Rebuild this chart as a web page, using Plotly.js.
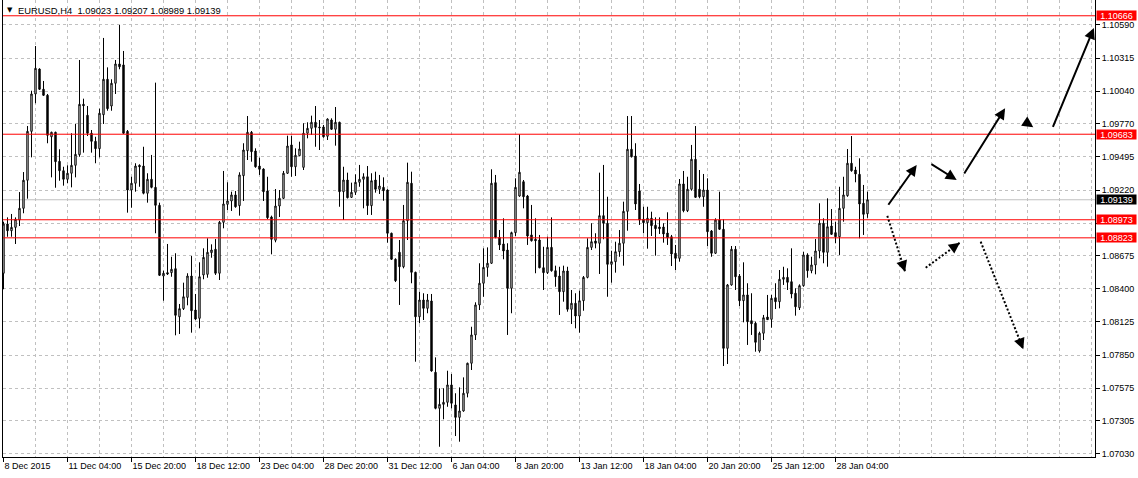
<!DOCTYPE html>
<html><head><meta charset="utf-8">
<script src="https://cdn.plot.ly/plotly-3.0.1.min.js"></script>
<style>html,body{margin:0;padding:0;background:#fff;}#chart{width:1138px;height:478px;}</style>
</head><body><div id="chart"></div>
<script>
const headerText = "EURUSD,H4  1.09023 1.09207 1.08989 1.09139";

const openP = [
1.08529,1.08938,1.08882,1.08910,1.08971,1.09068,1.09301,1.09707,1.10017,1.10224,
1.10056,1.10006,1.09662,1.09699,1.09458,1.09380,1.09309,1.09359,1.09425,1.09513,
1.09931,1.09840,1.09691,1.09624,1.09563,1.09845,1.10139,1.09917,1.10106,1.10266,
1.10258,1.09707,1.09220,1.09276,1.09425,1.09419,1.09193,1.09309,1.09242,1.09093,
1.08506,1.08534,1.08534,1.08567,1.08168,1.08235,1.08329,1.08506,1.08224,1.08155,
1.08515,1.08520,1.08700,1.08728,1.08529,1.08952,1.09101,1.09129,1.09179,1.09090,
1.09339,1.09546,1.09699,1.09544,1.09419,1.09394,1.09212,1.08996,1.08803,1.09087,
1.09151,1.09359,1.09594,1.09413,1.09505,1.09408,1.09691,1.09732,1.09782,1.09743,
1.09743,1.09666,1.09801,1.09724,1.09782,1.09206,1.09303,1.09159,1.09201,1.09284,
1.09309,1.09330,1.09090,1.09303,1.09226,1.09242,1.09220,1.08861,1.08645,1.08703,
1.08583,1.08965,1.09276,1.08537,1.08168,1.08307,1.08238,1.08299,1.07707,1.07408,
1.07441,1.07458,1.07602,1.07436,1.07333,1.07386,1.07533,1.07782,1.08017,1.08266,
1.08446,1.08578,1.08612,1.09281,1.08827,1.08772,1.08722,1.08404,1.08866,1.09170,
1.09289,1.09170,1.08847,1.08811,1.08805,1.08575,1.08534,1.08744,1.08550,1.08506,
1.08376,1.08548,1.08230,1.08280,1.08174,1.08301,1.08495,1.08744,1.08797,1.08778,
1.09007,1.08944,1.08603,1.08625,1.08708,1.08778,1.09043,1.09558,1.09502,1.09212,
1.08977,1.08949,1.08985,1.08927,1.08913,1.08913,1.08863,1.08832,1.08695,1.08653,
1.09270,1.09048,1.09226,1.09475,1.09226,1.09164,1.09220,1.08880,1.08695,1.08971,
1.08894,1.07906,1.08432,1.08728,1.08506,1.08301,1.08349,1.08135,1.08114,1.07884,
1.08031,1.08166,1.08147,1.08326,1.08293,1.08479,1.08495,1.08459,1.08363,1.08243,
1.08426,1.08681,1.08550,1.08598,1.08714,1.08944,1.08703,1.08921,1.08866,1.08832,
1.09068,1.09173,1.09442,1.09386,1.09350,1.09110,1.09023];

const highP = [
1.08957,1.08993,1.09021,1.08993,1.09203,1.09369,1.09751,1.10044,1.10415,1.10230,
1.10125,1.10017,1.09704,1.09704,1.09558,1.09413,1.09425,1.09691,1.09768,1.10299,
1.09978,1.09917,1.09718,1.09662,1.09895,1.10482,1.10238,1.10139,1.10299,1.10590,
1.10374,1.09718,1.09330,1.09442,1.09433,1.09579,1.09359,1.09511,1.10111,1.09115,
1.08550,1.08772,1.08666,1.08695,1.08274,1.08451,1.08529,1.08672,1.08357,1.08620,
1.08736,1.08819,1.08769,1.08813,1.08963,1.09378,1.09284,1.09206,1.09212,1.09367,
1.09608,1.09834,1.09710,1.09566,1.09488,1.09400,1.09330,1.09007,1.09228,1.09220,
1.09378,1.09671,1.09671,1.09566,1.09621,1.09774,1.09782,1.09837,1.09917,1.09801,
1.09760,1.09815,1.09815,1.09909,1.09787,1.09413,1.09364,1.09281,1.09350,1.09428,
1.09359,1.09419,1.09359,1.09372,1.09345,1.09325,1.09226,1.08866,1.08653,1.08805,
1.09096,1.09447,1.09372,1.08542,1.08376,1.08363,1.08357,1.08357,1.07831,1.07574,
1.07574,1.07720,1.07693,1.07533,1.07582,1.07665,1.07787,1.08085,1.08288,1.08612,
1.08736,1.08744,1.09392,1.09345,1.08888,1.08985,1.08778,1.08874,1.09317,1.09682,
1.09303,1.09179,1.09096,1.08985,1.08847,1.08749,1.08832,1.08993,1.08592,1.08583,
1.08592,1.08583,1.08390,1.08363,1.08384,1.08506,1.08819,1.08944,1.08861,1.09364,
1.09428,1.09164,1.08716,1.08791,1.08888,1.09123,1.09834,1.09834,1.09608,1.09270,
1.09081,1.09081,1.09040,1.08993,1.08993,1.08944,1.09035,1.08847,1.08764,1.09311,
1.09378,1.09330,1.09594,1.09751,1.09386,1.09353,1.09317,1.08888,1.08985,1.09206,
1.08977,1.08440,1.08755,1.08755,1.08523,1.08620,1.08446,1.08363,1.08127,1.08044,
1.08183,1.08349,1.08349,1.08446,1.08556,1.08583,1.08570,1.08736,1.08404,1.08437,
1.08708,1.08695,1.08666,1.08813,1.09110,1.08985,1.09151,1.09062,1.08957,1.09247,
1.09330,1.09560,1.09668,1.09413,1.09483,1.09262,1.09207];

const lowP = [
1.08396,1.08832,1.08832,1.08772,1.08921,1.09027,1.09148,1.09491,1.09940,1.10050,
1.10000,1.09608,1.09325,1.09239,1.09297,1.09256,1.09276,1.09242,1.09325,1.09496,
1.09530,1.09668,1.09530,1.09442,1.09491,1.09768,1.09878,1.09878,1.10017,1.10222,
1.09685,1.09032,1.09073,1.09206,1.09247,1.09184,1.09115,1.09234,1.08861,1.08506,
1.08301,1.08515,1.08500,1.08014,1.08025,1.08224,1.08263,1.08036,1.08141,1.08072,
1.08479,1.08492,1.08658,1.08515,1.08473,1.08902,1.09054,1.09046,1.09073,1.09007,
1.09129,1.09469,1.09455,1.09405,1.09345,1.09129,1.08979,1.08686,1.08786,1.08996,
1.09145,1.09353,1.09330,1.09336,1.09502,1.09386,1.09649,1.09677,1.09579,1.09552,
1.09654,1.09635,1.09718,1.09588,1.09081,1.08971,1.09150,1.09154,1.09179,1.09247,
1.09068,1.09013,1.09013,1.09198,1.09187,1.09131,1.08783,1.08639,1.08456,1.08266,
1.08570,1.08805,1.08446,1.07795,1.08114,1.08141,1.08197,1.07712,1.07400,1.07089,
1.07317,1.07421,1.07408,1.07178,1.07131,1.07380,1.07499,1.07726,1.07975,1.08224,
1.08334,1.08500,1.08606,1.08819,1.08722,1.08645,1.08017,1.08197,1.08838,1.09164,
1.09068,1.08764,1.08792,1.08529,1.08570,1.08390,1.08523,1.08542,1.08417,1.08183,
1.08293,1.08210,1.08108,1.08072,1.08036,1.08218,1.08487,1.08722,1.08736,1.08523,
1.08811,1.08334,1.08451,1.08534,1.08666,1.08592,1.08882,1.09490,1.09054,1.08930,
1.08861,1.08733,1.08838,1.08675,1.08855,1.08783,1.08764,1.08589,1.08556,1.08625,
1.09035,1.09037,1.09214,1.09154,1.09151,1.09081,1.08755,1.08666,1.08689,1.08888,
1.07759,1.07776,1.08426,1.08390,1.08257,1.08122,1.07934,1.08017,1.07878,1.07870,
1.07975,1.08141,1.08077,1.08232,1.08238,1.08432,1.08390,1.08321,1.08177,1.08224,
1.08417,1.08492,1.08529,1.08520,1.08653,1.08612,1.08583,1.08847,1.08778,1.08681,
1.08957,1.09164,1.09372,1.09284,1.08819,1.08847,1.08989];

const closeP = [
1.08938,1.08882,1.08910,1.08977,1.09068,1.09301,1.09707,1.10017,1.10230,1.10056,
1.10006,1.09674,1.09699,1.09455,1.09380,1.09309,1.09359,1.09425,1.09516,1.09931,
1.09920,1.09691,1.09624,1.09563,1.09857,1.10139,1.09895,1.10106,1.10266,1.10243,
1.09691,1.09220,1.09276,1.09419,1.09413,1.09193,1.09309,1.09242,1.09093,1.08512,
1.08529,1.08523,1.08562,1.08180,1.08235,1.08334,1.08506,1.08218,1.08149,1.08500,
1.08661,1.08703,1.08722,1.08529,1.08952,1.09104,1.09129,1.09179,1.09081,1.09345,
1.09552,1.09699,1.09538,1.09413,1.09392,1.09206,1.08990,1.08811,1.09087,1.09151,
1.09359,1.09585,1.09413,1.09508,1.09560,1.09691,1.09732,1.09782,1.09740,1.09737,
1.09662,1.09809,1.09724,1.09782,1.09206,1.09303,1.09156,1.09201,1.09284,1.09309,
1.09330,1.09090,1.09297,1.09226,1.09253,1.09214,1.08861,1.08645,1.08467,1.08583,
1.08965,1.09284,1.08537,1.08168,1.08307,1.08238,1.08307,1.07718,1.07408,1.07441,
1.07458,1.07602,1.07450,1.07333,1.07386,1.07533,1.07782,1.08017,1.08266,1.08446,
1.08578,1.08612,1.09276,1.08827,1.08764,1.08714,1.08404,1.08866,1.09242,1.09367,
1.09164,1.08838,1.08799,1.08799,1.08575,1.08534,1.08744,1.08550,1.08500,1.08376,
1.08548,1.08230,1.08280,1.08174,1.08301,1.08495,1.08744,1.08791,1.08778,1.09007,
1.08944,1.08603,1.08625,1.08708,1.08778,1.09043,1.09558,1.09496,1.09104,1.08971,
1.08949,1.08985,1.08924,1.08899,1.08899,1.08855,1.08824,1.08689,1.08653,1.09270,
1.09048,1.09226,1.09475,1.09159,1.09164,1.09220,1.08874,1.08695,1.08971,1.08894,
1.07906,1.08432,1.08728,1.08500,1.08301,1.08349,1.08127,1.08110,1.07956,1.08031,
1.08160,1.08144,1.08321,1.08293,1.08479,1.08495,1.08454,1.08357,1.08251,1.08426,
1.08681,1.08550,1.08598,1.08714,1.08944,1.08703,1.08915,1.08852,1.08832,1.09068,
1.09179,1.09442,1.09380,1.09353,1.09104,1.09018,1.09139];

const xTickIndex = [0,16,32,48,64,80,96,112,128,144,160,176,192,208];
const xTickLabels = ["8 Dec 2015","11 Dec 04:00","15 Dec 20:00","18 Dec 12:00","23 Dec 04:00","28 Dec 20:00","31 Dec 12:00","6 Jan 04:00","8 Jan 20:00","13 Jan 12:00","18 Jan 04:00","20 Jan 20:00","25 Jan 12:00","28 Jan 04:00"];
const yTickValues = [1.10590,1.10315,1.10040,1.09770,1.09495,1.09220,1.08945,1.08675,1.08400,1.08125,1.07850,1.07575,1.07305,1.07030];
const redLevels = [1.10666,1.09683,1.08973,1.08823];
const bidLevel = 1.09139;

// hand-drawn arrows (bar index, price)
const solidTailIdx   = [220.95,231.6,239.95,255.4,262.2];
const solidTailPrice = [1.09085,1.09442,1.09345,1.09787,1.09732];
const solidHeadIdx   = [228.3,238.3,250.4,257.45,272.6];
const solidHeadPrice = [1.09428,1.09303,1.09898,1.09741,1.10565];
const dotTailIdx   = [220.95,230.55,244.3];
const dotTailPrice = [1.09005,1.08575,1.08791];
const dotHeadIdx   = [225.4,239.1,254.95];
const dotHeadPrice = [1.08542,1.08783,1.07898];

const FONT = 'Liberation Sans, Arial, sans-serif';
const xIdx = openP.map((_, i) => i);
const xRange = [-0.125, 272.875];
const yRange = [1.07004, 1.10797];
const M = {l:3, r:43, t:0, b:21};
const W = 1138, H = 478;
const pxPerIdx = (W - M.l - M.r) / (xRange[1] - xRange[0]);
const pxPerPrice = (H - M.t - M.b) / (yRange[1] - yRange[0]);

const minorIdx = [];
for (let k = 0; k <= 272; k += 8) minorIdx.push(k);

// price-scale labels that sit under a level label are hidden (as the platform does)
const labelLevels = redLevels.concat([bidLevel]);
const yTickText = yTickValues.map(v =>
  labelLevels.some(l => Math.abs(l - v) * pxPerPrice < 9) ? '' : v.toFixed(5));

const trace = {
  type: 'candlestick', x: xIdx, open: openP, high: highP, low: lowP, close: closeP,
  increasing: {line: {color: '#000', width: 1}, fillcolor: '#ffffff'},
  decreasing: {line: {color: '#000', width: 1}, fillcolor: '#000000'},
  whiskerwidth: 0, hoverinfo: 'skip', showlegend: false
};

const shapes = [];
redLevels.forEach(v => shapes.push({type:'line', xref:'paper', x0:0, x1:1, yref:'y', y0:v, y1:v, line:{color:'#ff0000', width:1}, layer:'above'}));
shapes.push({type:'line', xref:'paper', x0:0, x1:1, yref:'y', y0:bidLevel, y1:bidLevel, line:{color:'#c0c0c0', width:1}, layer:'below'});

const annotations = [];
// header
annotations.push({xref:'paper', yref:'paper', x:0, y:1, xanchor:'center', yanchor:'middle', xshift:6.5, yshift:-10, text:'▼', showarrow:false, font:{family:'DejaVu Sans', size:7, color:'#000'}});
annotations.push({xref:'paper', yref:'paper', x:0, y:1, xanchor:'left', yanchor:'middle', xshift:13, yshift:-10.5, text:headerText, showarrow:false, font:{family:FONT, size:9.4, color:'#000'}});
// price labels
redLevels.forEach(v => annotations.push({xref:'paper', x:1, xanchor:'left', xshift:1, yref:'y', y:v, yanchor:'middle', text:v.toFixed(5), showarrow:false, bgcolor:'#ff0000', font:{family:FONT, size:9, color:'#fff'}, width:38, height:8, borderpad:0.5}));
annotations.push({xref:'paper', x:1, xanchor:'left', xshift:1, yref:'y', y:bidLevel, yanchor:'middle', text:bidLevel.toFixed(5), showarrow:false, bgcolor:'#000000', font:{family:FONT, size:9, color:'#fff'}, width:38, height:8, borderpad:0.5});
// solid arrows
solidHeadIdx.forEach((hx, k) => annotations.push({
  xref:'x', yref:'y', axref:'x', ayref:'y', x:hx, y:solidHeadPrice[k], ax:solidTailIdx[k], ay:solidTailPrice[k],
  text:'', showarrow:true, arrowhead:2, arrowsize:1.1, arrowwidth:2, arrowcolor:'#000'}));
// dotted arrows
dotHeadIdx.forEach((hx, k) => {
  shapes.push({type:'line', xref:'x', yref:'y', x0:dotTailIdx[k], y0:dotTailPrice[k], x1:hx, y1:dotHeadPrice[k], line:{color:'#000', width:2, dash:'2px,2px'}, layer:'above'});
  const dx = (dotTailIdx[k] - hx) * pxPerIdx;
  const dy = -(dotTailPrice[k] - dotHeadPrice[k]) * pxPerPrice;
  const len = Math.hypot(dx, dy);
  annotations.push({xref:'x', yref:'y', x:hx, y:dotHeadPrice[k], ax:dx / len * 12, ay:dy / len * 12,
    text:'', showarrow:true, arrowhead:2, arrowsize:1.1, arrowwidth:2, arrowcolor:'#000'});
});

const gridStyle = {gridcolor:'#c0c0c0', griddash:'3px,3px', gridwidth:1};

const layout = {
  width: W, height: H, margin: M,
  paper_bgcolor:'#ffffff', plot_bgcolor:'#ffffff', showlegend:false,
  font:{family:FONT, size:9, color:'#000'},
  boxgap: 0.5, dragmode:false, hovermode:false,
  xaxis: Object.assign({
    range: xRange, rangeslider:{visible:false}, type:'linear',
    tickmode:'array', tickvals:xTickIndex, ticktext:xTickLabels,
    ticks:'outside', ticklen:4, tickcolor:'#000', tickwidth:1,
    ticklabelposition:'outside right',
    tickfont:{family:FONT, size:9, color:'#000'},
    showline:true, linecolor:'#000', linewidth:1, zeroline:false, showgrid:true,
    minor: Object.assign({tickmode:'array', tickvals:minorIdx, showgrid:true, ticks:''}, gridStyle),
    fixedrange:true
  }, gridStyle),
  yaxis: Object.assign({
    side:'right', range: yRange, type:'linear',
    tickmode:'array', tickvals:yTickValues, ticktext:yTickText,
    ticks:'outside', ticklen:4, tickcolor:'#000', tickwidth:1,
    tickfont:{family:FONT, size:9, color:'#000'},
    showline:true, mirror:true, linecolor:'#000', linewidth:1, zeroline:false, showgrid:true,
    fixedrange:true
  }, gridStyle),
  shapes: shapes, annotations: annotations
};

Plotly.newPlot('chart', [trace], layout, {displayModeBar:false, staticPlot:true});
</script>
</body></html>
